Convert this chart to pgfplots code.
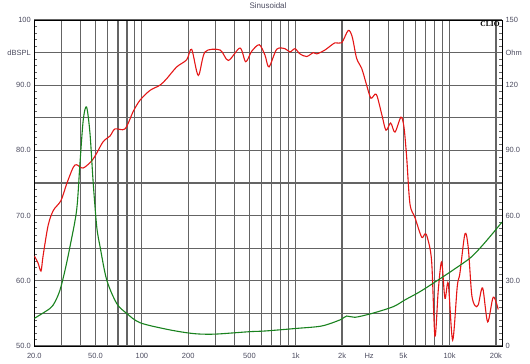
\documentclass[border=0pt]{standalone}
\usepackage{fontspec}
\setmainfont{Liberation Sans}
\newfontfamily\clioserif{Liberation Serif}
\usepackage{pgfplots}
\pgfplotsset{compat=1.18}
\definecolor{spl}{RGB}{228,22,22}
\definecolor{imp}{RGB}{25,130,30}
\definecolor{gridc}{RGB}{100,100,100}
\definecolor{lbl}{RGB}{75,75,95}
\begin{document}
\begin{tikzpicture}
\path[use as bounding box] (0pt,0pt) rectangle (530pt,364pt);
\pgfplotsset{
 every axis/.append style={
  scale only axis, width=467.7pt, height=326pt, at={(34.3pt,18pt)}, anchor=south west,
  xmode=log, xmin=20, xmax=21900,
  tick label style={font=\fontsize{7.5}{8}\selectfont, text=lbl},
  axis line style={black, line width=1pt},
  tick align=inside,
  major tick length=0pt,
  minor tick length=3pt,
  minor tick style={gridc, line width=0.6pt},
 }
}
\begin{axis}[
 ymin=50, ymax=100,
 xtick={20,30,40,50,60,70,80,90,100,200,300,400,500,600,700,800,900,1000,2000,3000,4000,5000,6000,7000,8000,9000,10000,20000},
 xticklabels={20.0,,,50.0,,,,,100,200,,,500,,,,,1k,2k,Hz,,5k,,,,,10k,20k},
 xticklabel style={yshift=-3.5pt},
 ytick={50,55,...,100},
 yticklabels={50.0,,60.0,,70.0,,80.0,,90.0,dBSPL,100},
 minor y tick num=4,
 ytick pos=left,
 xtick pos=bottom,
 grid=major,
 major grid style={gridc, line width=1.2pt},
 clip=true,
]
\addplot[spl, line width=1.1pt, smooth] coordinates {
(20,63.8) (21.1,62.8) (22.1,61.5) (22.8,63.8) (24.6,68.5) (26.6,70.8) (29.8,72.3) (32.5,74.9) (35.8,77.4) (37.7,77.8) (41.6,77.3) (48.3,78.7) (55.9,81.3) (62.1,82.2) (66.9,83.3) (77.7,83.3) (88,86.0) (97.3,87.7) (112.9,89.2) (131.1,90.0) (145,91.0) (168.4,92.8) (195.6,93.9) (210.7,95.5) (232.7,91.5) (257.3,95.1) (321.9,95.4) (364.6,93.8) (434.3,95.7) (472.9,93.6) (517.3,95.2) (579.6,96.2) (631.3,94.6) (670.2,92.8) (751.9,95.5) (851.2,95.6) (917.6,95.1) (989,95.6) (1065,94.8) (1178,94.4) (1301,95.0) (1368,94.8) (1549,95.4) (1798,96.5) (1988,96.5) (2194,98.4) (2329,97.4) (2488,94.1) (2682,92.6) (2890,90.0) (3083,88.0) (3337,88.6) (3617,85.6) (3858,83.1) (4139,84.2) (4414,82.8) (4828,85.1) (5049,83.6) (5257,79.0) (5524,71.8) (5953,69.7) (6581,66.7) (6914,67.2) (7155,66.7) (7643,63.0) (8028,51.5) (8436,58.5) (8877,62.9) (9326,57.3) (9798,59.6) (10464,50.9) (11209,59.1) (11672,61.2) (12579,67.2) (13215,65.1) (13905,58.0) (14611,56.2) (15349,56.3) (16394,58.9) (17670,53.7) (19211,57.5) (20700,55.6)
};
\end{axis}
\begin{axis}[
 ymin=0, ymax=150,
 axis y line*=right,
 axis x line=none,
 ytick={0,15,...,150},
 yticklabels={0,,30.0,,60.0,,90.0,,120,Ohm,150},
 yticklabel style={anchor=west},
 minor y tick num=4,
 clip=true,
]
\addplot[imp, line width=1.1pt, smooth] coordinates {
(20,12.7) (25.3,17.3) (27.3,20.4) (29.4,25.8) (31.7,35) (34.1,45.7) (37.7,62.6) (39.6,84) (41.6,104) (43.7,110) (46.0,97.9) (48.3,74.9) (50.9,54.9) (53.5,45.7) (59.1,30.4) (68.6,19.6) (79.7,15) (97.3,10.7) (145,7.7) (195.6,6.1) (238.7,5.5) (306.4,5.5) (504,6.6) (631,6.9) (1014,8.1) (1474,9.2) (1938,12.0) (2143,13.8) (2426,13.2) (3133,15.0) (4303,18.1) (5125,21.2) (6418,25.0) (8271,30) (10557,35) (13550,40.4) (15740,45) (18283,50.3) (20700,54.9) (21890,57)
};
\end{axis}
\node[font=\fontsize{8}{9}\selectfont, text=lbl] at (268pt,358pt) {Sinusoidal};
\node[anchor=north east, font=\clioserif\bfseries\fontsize{7.5}{8}\selectfont, inner sep=0pt] at (499.8pt,342.5pt) {CLIO};
\end{tikzpicture}
\end{document}
